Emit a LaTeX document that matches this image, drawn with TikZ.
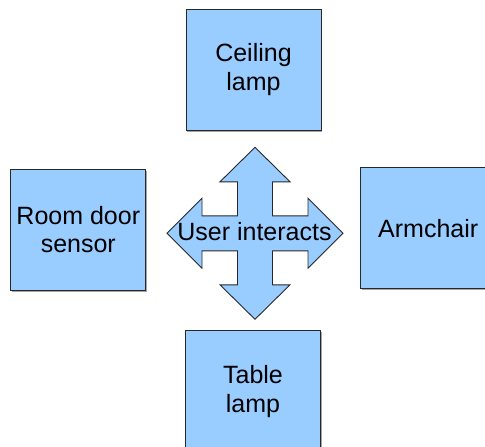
\documentclass[tikz,border=0pt]{standalone}
\usepackage{fontspec}
\setmainfont{Liberation Sans}
\usepackage{tikz}
\usetikzlibrary{shadows}
\definecolor{boxblue}{RGB}{153,204,255}
\definecolor{edgegray}{RGB}{40,40,40}

\begin{document}
\begin{tikzpicture}[x=1pt,y=-1pt,
  device/.style={draw=edgegray, line width=0.9pt, fill=boxblue, align=center,
    minimum width=135pt, minimum height=121pt, inner sep=0pt,
    font=\fontsize{25}{28.7}\selectfont,
    drop shadow={shadow xshift=1pt, shadow yshift=-1.5pt, fill=gray, opacity=0.7}},
  cross/.style={draw=edgegray, line width=0.9pt, fill=boxblue, line join=miter}]
\useasboundingbox (0,0) rectangle (485,447);
\clip (0,0) rectangle (485,447);
\fill [white] (0,0) rectangle (485,447);
% the four devices
\node [device] (ceiling) at (253.5,69.7) {Ceiling\\lamp};
\node [device] (door) at (78.3,229.5) {Room door\\sensor};
\node [device] (armchair) at (428.2,228.2) {Armchair};
\node [device] (table) at (253,391.2) {Table\\lamp};
% four-way arrow in the middle
\coordinate (ui) at (255,233.3);
\begin{scope}[shift={(ui)}]
\draw [cross] (0,-86) -- (35,-51.5) -- (17.5,-51.5) -- (17.5,-17.5)
  -- (53,-17.5) -- (53,-35) -- (88,0) -- (53,35) -- (53,17.5)
  -- (17.5,17.5) -- (17.5,51.5) -- (35,51.5) -- (0,86)
  -- (-35,51.5) -- (-17.5,51.5) -- (-17.5,17.5) -- (-53,17.5)
  -- (-53,35) -- (-88,0) -- (-53,-35) -- (-53,-17.5)
  -- (-17.5,-17.5) -- (-17.5,-51.5) -- (-35,-51.5) -- cycle;
\end{scope}
\node [font=\fontsize{25}{28.7}\selectfont, inner sep=0pt] (user) at (254.5,231.5) {User interacts};
\end{tikzpicture}
\end{document}
